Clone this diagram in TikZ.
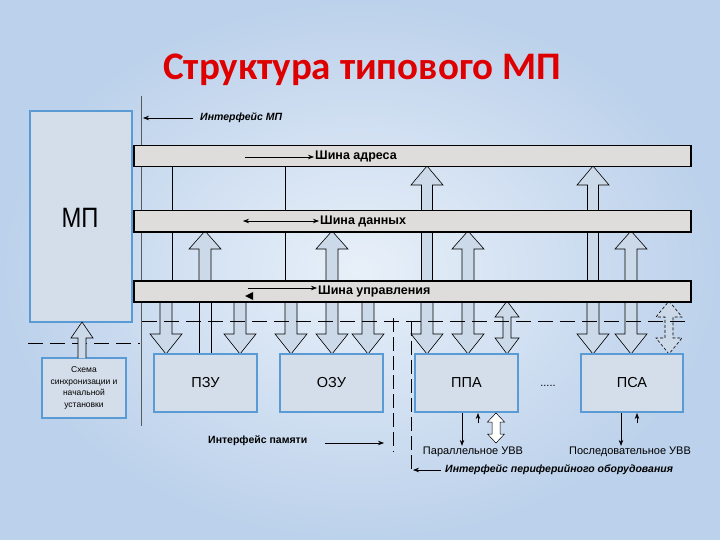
\documentclass[tikz,border=0pt]{standalone}
\usepackage{fontspec}
\setmainfont{Liberation Sans}
\newfontfamily\titlefont{Carlito}
\usetikzlibrary{arrows.meta}

\definecolor{bgA}{RGB}{232,240,249}
\definecolor{bgB}{RGB}{188,209,235}
\definecolor{boxfill}{RGB}{212,222,234}
\definecolor{boxline}{RGB}{91,155,213}
\definecolor{busfill}{RGB}{222,221,219}
\definecolor{arrfill}{RGB}{204,217,232}
\definecolor{titlered}{RGB}{222,0,0}

% block arrow: [opts]{c}{tip}{tail}{head height (signed)}{head width}{shaft width}
\newcommand\BArr[7][]{%
  \draw[line width=0.6pt, fill=arrfill, #1] ({#2-#7/2},#4) -- ({#2-#7/2},{#3+#5}) -- ({#2-#6/2},{#3+#5}) -- (#2,#3) -- ({#2+#6/2},{#3+#5}) -- ({#2+#7/2},{#3+#5}) -- ({#2+#7/2},#4);}
% double block arrow: [opts]{c}{top}{bottom}{head height}{head width}{shaft width}
\newcommand\DArr[7][]{%
  \draw[line width=0.6pt, fill=arrfill, #1] (#2,#3) -- ({#2+#6/2},{#3+#5}) -- ({#2+#7/2},{#3+#5}) -- ({#2+#7/2},{#4-#5}) -- ({#2+#6/2},{#4-#5}) -- (#2,#4) -- ({#2-#6/2},{#4-#5}) -- ({#2-#7/2},{#4-#5}) -- ({#2-#7/2},{#3+#5}) -- ({#2-#6/2},{#3+#5}) -- cycle;}

\tikzset{
  bus/.style={draw=black, line width=1.5pt, fill=busfill, minimum width=557pt, minimum height=21pt, anchor=north west, inner sep=0pt},
  buslab/.style={anchor=west, inner sep=1pt, font=\bfseries\fontsize{12.5}{14}\selectfont},
  blk/.style={draw=boxline, line width=2pt, fill=boxfill, inner sep=0pt, align=center},
  blklab/.style={font=\fontsize{14.5}{16}\selectfont},
  ital/.style={font=\bfseries\itshape\fontsize{10.5}{12}\selectfont, inner sep=1pt},
  small/.style={font=\fontsize{11}{13}\selectfont, inner sep=1pt},
  thinarr/.style={line width=0.7pt, -{Stealth[length=6pt,width=4.5pt]}},
  longdash/.style={line width=1pt, dash pattern=on 15pt off 7pt},
  ifdash/.style={line width=0.7pt, dash pattern=on 14pt off 5pt}
}

\begin{document}
\begin{tikzpicture}[x=1pt, y=-1pt]
\useasboundingbox (0,0) rectangle (720,540);
\shade[inner color=bgA, outer color=bgB] (0,0) rectangle (720,540);

% title
\node[font=\titlefont\bfseries\fontsize{39}{44}\selectfont, text=titlered] (title) at (362,70) {Структура типового МП};

% interface MP line
\draw[gray!70!black, line width=0.5pt] (141,96) -- (141,426);
\coordinate (ifmpend) at (143,118);
\node[ital, anchor=west] (ifmp) at (199,118) {Интерфейс МП};
\draw[thinarr] (ifmp.west) ++(-6,0) -- (ifmpend);

% vertical address lines between buses
\foreach \x in {172,285} {
  \draw[line width=0.7pt] (\x,166) -- (\x,210);
  \draw[line width=0.7pt] (\x,231) -- (\x,280);
}
% address arrows up to address bus (shaft through data bus)
\foreach \c in {427,593} {
  \BArr{\c}{166}{210}{19}{32}{11}
  \draw[line width=0.6pt, fill=arrfill] ({\c-5.5},231) rectangle ({\c+5.5},280);
}
% data arrows up to data bus
\foreach \c in {205,332,468,631} {
  \BArr{\c}{231}{280}{18}{32}{12}
}
% below control bus: down arrows
\foreach \c in {166,240,291,332,368,427,468,593,631} {
  \BArr{\c}{354}{301}{-20}{32}{12}
}
\draw[line width=0.7pt] (199,301) -- (199,354);
\draw[line width=0.7pt] (211,301) -- (211,354);
\DArr{507}{301}{354}{16}{24}{8}
\DArr[densely dashed]{669}{301}{354}{16}{26}{8}

% dashed horizontal lines
\draw[longdash] (142,321) -- (690,321);
\draw[longdash] (28,343) -- (140,343);

% buses
\node[bus] (abus) at (133,145) {};
\node[bus] (dbus) at (133,210) {};
\node[bus] (cbus) at (133,280) {};
\node[buslab] (alab) at (314,156) {Шина адреса};
\node[buslab] (dlab) at (319,221) {Шина данных};
\node[buslab] (clab) at (317,291) {Шина управления};
\coordinate (aarr) at (245,157);
\coordinate (darr) at (243,221);
\coordinate (carr) at (248,288);
\draw[thinarr] (aarr) -- (alab.west |- aarr);
\draw[line width=0.7pt, {Stealth[length=6pt,width=4.5pt]}-{Stealth[length=6pt,width=4.5pt]}] (darr) -- (dlab.west |- darr);
\draw[thinarr] (carr) -- (clab.west |- carr);
\fill (245,296) -- (253,292) -- (253,300) -- cycle;

% MP
\node[blk, minimum width=102pt, minimum height=211pt] (mp) at (81,216.5) {};
\node[font=\fontsize{28}{30}\selectfont, xscale=0.85] (mplab) at (80,218) {МП};

% sync box
\node[blk, minimum width=84pt, minimum height=60pt, font=\fontsize{8.5}{11.7}\selectfont] (sync) at (84,388) {Схема\\синхронизации и\\начальной\\установки};
\BArr{82}{322}{358}{16}{22}{8}

% blocks
\node[blk, minimum width=103pt, minimum height=58pt, blklab] (pzu) at (205.5,383) {ПЗУ};
\node[blk, minimum width=103pt, minimum height=58pt, blklab] (ozu) at (331.5,383) {ОЗУ};
\node[blk, minimum width=103pt, minimum height=58pt, blklab] (ppa) at (466.5,383) {ППА};
\node[blk, minimum width=102pt, minimum height=58pt, blklab] (psa) at (632,383) {ПСА};
\node[small] (dots) at (548,386) {.....};

% interface dashed verticals
\draw[ifdash] (393,318) -- (393,452);
\draw[ifdash] (411,322) -- (411,473);

% below blocks
\node[small] (parl) at (473,452) {Параллельное УВВ};
\node[small] (serl) at (630,452) {Последовательное УВВ};
\draw[thinarr] (ppa.south -| 462,0) -- (parl.north -| 462,0);
\draw[thinarr] (478,423) -- (ppa.south -| 478,0);
\DArr[fill=white, line width=0.5pt]{496}{413}{443}{9}{17}{8}
\draw[thinarr] (psa.south -| 621,0) -- (serl.north -| 621,0);
\draw[thinarr] (637,423) -- (psa.south -| 637,0);

% interface labels
\node[font=\bfseries\fontsize{10.5}{12}\selectfont, anchor=west, inner sep=1pt] (ifmem) at (207,441) {Интерфейс памяти};
\coordinate (ifmemend) at (384,443);
\draw[thinarr] (325,443) -- (ifmemend);
\node[ital, anchor=west] (ifper) at (444,470) {Интерфейс периферийного оборудования};
\coordinate (ifperend) at (413,470);
\draw[thinarr] (ifper.west) ++(-3,0) -- (ifperend);
\end{tikzpicture}
\end{document}
